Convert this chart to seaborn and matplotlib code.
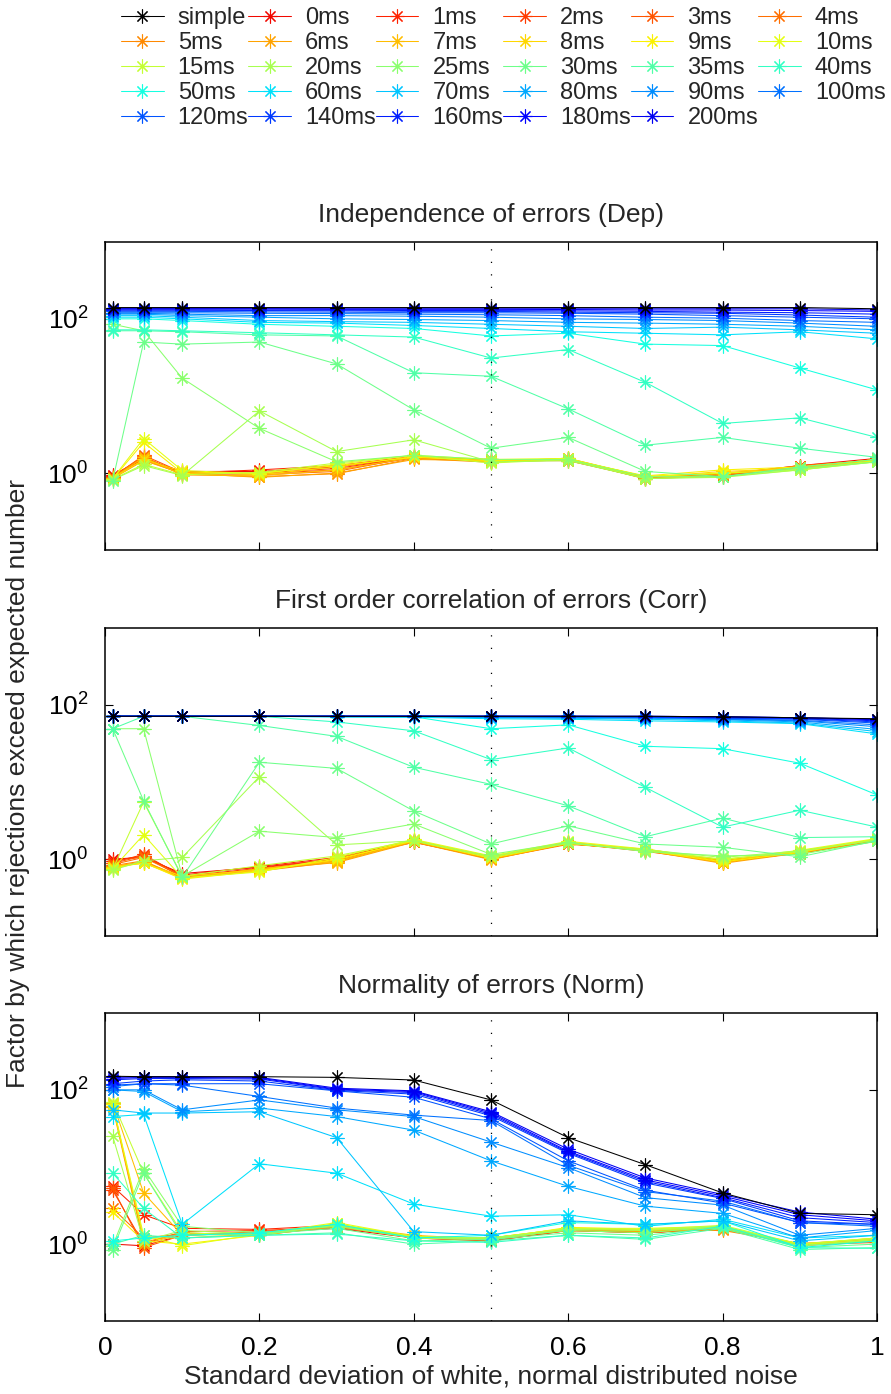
import matplotlib
matplotlib.use("Agg")
import matplotlib.pyplot as plt
from matplotlib.lines import Line2D
import numpy as np
import pandas as pd
import seaborn as sns

# noise levels (x axis)
sigma = [0.01, 0.05, 0.1, 0.2, 0.3, 0.4, 0.5, 0.6, 0.7, 0.8, 0.9, 1.0]
delays = [0, 1, 2, 3, 4, 5, 6, 7, 8, 9, 10, 15, 20, 25, 30, 35, 40,
          50, 60, 70, 80, 90, 100, 120, 140, 160, 180, 200]
ms_labels = [f"{d}ms" for d in delays]

titles = ["Independence of errors (Dep)",
          "First order correlation of errors (Corr)",
          "Normality of errors (Norm)"]

# Dep: one row per delay, in the order of `delays`
dep_simple = [140, 140, 140, 140, 140, 140, 140, 140, 140, 140, 140, 135]
dep_ms = [
    [0.95, 1.5, 1.05, 1.05, 1.2, 1.6, 1.4, 1.5, 0.87, 0.95, 1.25, 1.55],
    [0.92, 1.6, 1.0, 1.1, 1.25, 1.65, 1.45, 1.45, 0.86, 0.9, 1.2, 1.5],
    [0.9, 1.55, 0.98, 1.0, 1.15, 1.6, 1.5, 1.5, 0.85, 0.92, 1.22, 1.5],
    [0.88, 1.7, 1.02, 0.98, 1.1, 1.58, 1.42, 1.55, 0.88, 0.94, 1.18, 1.52],
    [0.9, 1.65, 0.95, 0.95, 1.05, 1.62, 1.4, 1.48, 0.87, 0.96, 1.25, 1.48],
    [0.86, 1.5, 0.97, 0.9, 0.98, 1.55, 1.38, 1.52, 0.9, 0.95, 1.2, 1.5],
    [0.85, 1.45, 1.0, 0.88, 1.0, 1.5, 1.45, 1.5, 0.84, 0.98, 1.15, 1.45],
    [0.87, 1.6, 0.95, 0.92, 1.1, 1.6, 1.5, 1.45, 0.9, 1.0, 1.2, 1.5],
    [0.85, 1.5, 1.05, 0.95, 1.2, 1.65, 1.4, 1.5, 0.88, 1.05, 1.15, 1.45],
    [0.84, 2.5, 1.0, 1.0, 1.25, 1.6, 1.45, 1.5, 0.92, 1.1, 1.2, 1.5],
    [0.85, 2.8, 1.08, 0.98, 1.3, 1.7, 1.5, 1.55, 0.9, 1.0, 1.1, 1.45],
    [0.83, 1.3, 0.95, 1.02, 1.35, 1.7, 1.35, 1.5, 0.85, 0.9, 1.1, 1.4],
    [0.82, 1.25, 0.93, 6.4, 1.9, 2.7, 1.4, 1.45, 0.85, 0.88, 1.1, 1.4],
    [85, 70, 17, 3.8, 1.4, 1.7, 1.5, 1.5, 0.9, 0.9, 1.15, 1.4],
    [0.8, 50, 47, 50, 26, 6.6, 2.1, 2.9, 1.05, 0.9, 1.2, 1.5],
    [70, 70, 68, 62, 60, 20, 18, 6.8, 2.3, 2.9, 2.1, 1.6],
    [72, 72, 70, 66, 62, 58, 31, 40, 15, 4.4, 5.2, 2.9],
    [100, 100, 95, 85, 80, 75, 60, 65, 47, 45, 23, 12],
    [105, 105, 100, 90, 88, 82, 75, 68, 65, 62, 68, 55],
    [110, 110, 105, 95, 92, 90, 85, 80, 75, 78, 72, 65],
    [115, 115, 110, 105, 100, 98, 95, 90, 88, 85, 80, 72],
    [118, 118, 115, 110, 110, 108, 105, 100, 98, 95, 88, 80],
    [120, 120, 120, 118, 117, 115, 113, 110, 105, 102, 95, 90],
    [125, 125, 125, 123, 122, 120, 120, 118, 115, 110, 105, 100],
    [130, 130, 130, 128, 127, 125, 125, 122, 120, 118, 112, 105],
    [130, 130, 130, 130, 130, 128, 128, 127, 125, 122, 120, 115],
    [135, 135, 135, 135, 133, 133, 133, 132, 130, 130, 128, 125],
    [135, 135, 135, 135, 135, 135, 135, 135, 135, 135, 135, 130],
]

# Corr
corr_simple = [71, 71, 71, 71, 71, 71, 71, 71, 71, 70, 68, 66]
corr_ms = [
    [1.0, 1.05, 0.65, 0.78, 1.0, 1.65, 1.02, 1.6, 1.3, 0.93, 1.2, 1.75],
    [0.95, 1.1, 0.62, 0.8, 1.05, 1.7, 1.05, 1.62, 1.28, 0.95, 1.22, 1.8],
    [0.9, 1.15, 0.6, 0.76, 1.02, 1.68, 1.0, 1.58, 1.32, 0.9, 1.25, 1.72],
    [0.88, 1.1, 0.58, 0.74, 0.98, 1.72, 1.03, 1.6, 1.26, 0.92, 1.2, 1.75],
    [0.85, 1.05, 0.6, 0.72, 0.95, 1.75, 1.06, 1.65, 1.3, 0.97, 1.18, 1.78],
    [0.82, 0.95, 0.57, 0.7, 0.92, 1.7, 1.0, 1.55, 1.35, 0.95, 1.23, 1.7],
    [0.8, 0.92, 0.59, 0.73, 0.9, 1.66, 0.98, 1.6, 1.28, 0.88, 1.2, 1.76],
    [0.78, 0.9, 0.56, 0.75, 0.93, 1.7, 1.04, 1.62, 1.3, 0.9, 1.25, 1.8],
    [0.8, 0.88, 0.6, 0.72, 0.97, 1.75, 1.08, 1.65, 1.33, 0.94, 1.28, 1.78],
    [0.76, 0.9, 0.55, 0.7, 1.0, 1.72, 1.02, 1.6, 1.3, 0.92, 1.22, 1.82],
    [0.75, 2.07, 0.57, 0.68, 1.05, 1.8, 1.1, 1.7, 1.35, 0.98, 1.3, 1.85],
    [0.74, 5.5, 0.6, 0.82, 1.1, 1.75, 1.05, 1.62, 1.28, 1.0, 1.25, 1.8],
    [0.72, 0.95, 1.05, 11.7, 1.53, 1.72, 1.08, 1.6, 1.32, 1.05, 1.28, 1.76],
    [49, 49, 0.6, 2.3, 1.9, 2.85, 1.15, 1.65, 1.25, 1.1, 1.15, 1.7],
    [49, 5.7, 0.58, 18, 15, 4.2, 1.57, 2.7, 1.57, 1.42, 1.07, 1.73],
    [49, 71, 71, 54, 39, 15.5, 9.3, 4.9, 1.95, 3.4, 1.9, 1.95],
    [71, 71, 71, 71, 60, 46, 19.5, 27.6, 8.5, 2.6, 4.3, 2.6],
    [71, 71, 71, 71, 70, 70, 49, 55, 29, 27, 17.5, 6.8],
    [71, 71, 71, 71, 70, 69, 66, 65, 62, 60, 57, 42],
    [71, 71, 71, 71, 70, 70, 68, 67, 65, 62, 58, 45],
    [71, 71, 71, 71, 71, 71, 69, 68, 67, 64, 60, 48],
    [71, 71, 71, 71, 71, 71, 70, 69, 68, 65, 62, 52],
    [71, 71, 71, 71, 71, 71, 70, 70, 69, 66, 63, 55],
    [71, 71, 71, 71, 71, 71, 71, 70, 70, 67, 65, 58],
    [71, 71, 71, 71, 71, 71, 71, 71, 70, 68, 66, 60],
    [71, 71, 71, 71, 71, 71, 71, 71, 70, 69, 67, 62],
    [71, 71, 71, 71, 71, 71, 71, 71, 71, 70, 68, 64],
    [71, 71, 71, 71, 71, 71, 71, 71, 71, 70, 68, 65],
]

# Norm
norm_simple = [150, 148, 148, 148, 145, 134, 74, 24, 10.7, 4.6, 2.5, 2.4]
norm_ms = [
    [1.0, 0.95, 1.3, 1.4, 1.6, 1.2, 1.1, 1.5, 1.4, 1.6, 0.95, 1.1],
    [5.6, 2.4, 1.6, 1.55, 1.75, 1.2, 1.2, 1.55, 1.4, 1.6, 1.0, 1.1],
    [5.0, 1.0, 1.45, 1.5, 1.65, 1.25, 1.15, 1.6, 1.45, 1.55, 1.0, 1.1],
    [5.3, 0.9, 1.3, 1.45, 1.7, 1.2, 1.1, 1.5, 1.4, 1.6, 0.98, 1.05],
    [2.9, 1.2, 1.35, 1.4, 1.65, 1.25, 1.2, 1.55, 1.45, 1.55, 1.0, 1.1],
    [65, 1.05, 1.4, 1.3, 1.7, 1.25, 1.15, 1.6, 1.5, 1.5, 1.02, 1.15],
    [60, 1.0, 1.35, 1.3, 1.7, 1.2, 1.2, 1.5, 1.45, 1.55, 1.0, 1.1],
    [68, 4.6, 1.3, 1.4, 1.75, 1.3, 1.15, 1.55, 1.5, 1.65, 0.98, 1.2],
    [62, 1.2, 1.2, 1.35, 1.8, 1.25, 1.2, 1.6, 1.5, 1.6, 1.0, 1.1],
    [2.6, 1.1, 1.0, 1.3, 1.85, 1.2, 1.15, 1.65, 1.55, 1.65, 0.95, 1.15],
    [65, 1.3, 0.95, 1.35, 1.9, 1.25, 1.2, 1.6, 1.6, 1.7, 1.0, 1.2],
    [70, 8.3, 1.4, 1.3, 1.8, 1.25, 1.2, 1.6, 1.55, 1.75, 1.0, 1.2],
    [25, 1.1, 1.5, 1.35, 1.75, 1.2, 1.15, 1.55, 1.5, 1.7, 0.95, 1.15],
    [0.95, 9.5, 1.7, 1.4, 1.7, 1.2, 1.2, 1.5, 1.4, 1.7, 0.95, 1.1],
    [0.85, 8.3, 1.3, 1.35, 1.6, 1.1, 1.15, 1.4, 1.3, 1.65, 0.9, 1.0],
    [1.0, 1.3, 1.2, 1.3, 1.4, 1.0, 1.1, 1.3, 1.15, 1.6, 0.85, 0.9],
    [8.3, 2.9, 1.2, 1.3, 1.35, 1.1, 1.05, 1.3, 1.2, 1.7, 0.9, 0.88],
    [1.1, 1.2, 1.3, 1.4, 1.8, 1.2, 1.3, 1.9, 1.8, 2.0, 0.9, 1.1],
    [45, 48, 1.8, 11, 8.3, 3.3, 2.3, 2.4, 1.7, 2.1, 1.2, 1.3],
    [55, 50, 50, 52, 24, 1.45, 1.3, 2.0, 1.8, 2.0, 1.1, 1.3],
    [100, 95, 52, 58, 45, 30, 12, 5.6, 3.1, 2.5, 1.2, 1.5],
    [100, 100, 55, 74, 55, 45, 21, 9.8, 4.0, 3.2, 1.3, 1.6],
    [110, 120, 115, 82, 58, 47, 40, 10.5, 4.8, 3.6, 1.9, 1.7],
    [115, 120, 120, 120, 97, 80, 42, 12, 5.0, 3.4, 1.9, 1.8],
    [120, 130, 135, 130, 98, 88, 46, 15, 6.2, 3.9, 2.0, 1.8],
    [135, 140, 140, 138, 100, 92, 48, 15.5, 6.5, 4.0, 2.2, 1.9],
    [140, 145, 145, 142, 102, 95, 50, 16, 6.8, 4.2, 2.4, 2.0],
    [145, 148, 148, 145, 105, 97, 52, 17, 7.2, 4.4, 2.6, 2.1],
]

sns.set_theme(style="ticks")
plt.rcParams["font.family"] = ["Liberation Sans", "DejaVu Sans"]
plt.rcParams["mathtext.fontset"] = "custom"
plt.rcParams["mathtext.rm"] = "Liberation Sans"
plt.rcParams["mathtext.it"] = "Liberation Sans"

# jet run backwards: red -> yellow over 0..10ms, yellow -> cyan up to 50ms,
# cyan -> blue up to 200ms
jet = plt.get_cmap("jet")
jet_pos = np.interp(np.arange(len(delays)), [0, 10, 17, 27], [0.9, 0.625, 0.375, 0.1])
colors = {lab: jet(v) for lab, v in zip(ms_labels, jet_pos)}

STAR = (8, 2, 0)
LINE_KW = dict(marker=STAR, markersize=10, lw=0.75)


def draw_panel(ax, simple, rows, title, show_xlabels):
    df = pd.DataFrame({
        "sigma": np.tile(sigma, len(delays)),
        "factor": np.concatenate([np.asarray(r, float) for r in rows]),
        "delay": np.repeat(ms_labels, len(sigma)),
    })
    sns.lineplot(data=df, x="sigma", y="factor", hue="delay", hue_order=ms_labels,
                 palette=colors, estimator=None, legend=False, ax=ax,
                 mew=0.8, **LINE_KW)
    sns.lineplot(x=sigma, y=simple, color="black", estimator=None, ax=ax,
                 mew=0.8, **LINE_KW)
    for line in ax.lines:
        line.set_markeredgecolor(line.get_color())

    ax.axvline(0.5, color="black", lw=0.9, ls=(0, (1, 9)))
    ax.set_yscale("log")
    ax.set_ylim(0.1, 1000)
    ax.set_xlim(0, 1)
    ax.set_yticks([1, 100])
    ax.yaxis.set_minor_locator(matplotlib.ticker.NullLocator())
    ax.set_xticks([0, 0.2, 0.4, 0.6, 0.8, 1.0])
    ax.set_xticklabels(["0", "0.2", "0.4", "0.6", "0.8", "1"] if show_xlabels else [])
    ax.tick_params(direction="in", top=True, right=True, length=6, width=0.8,
                   labelsize=19, color="black", labelcolor="black")
    ax.tick_params(axis="y", pad=12)
    ax.tick_params(axis="x", pad=11)
    for sp in ax.spines.values():
        sp.set_color("black")
        sp.set_linewidth(1.1)
    ax.set_xlabel("")
    ax.set_ylabel("")
    ax.set_title(title, fontsize=19, pad=14)


fig = plt.figure(figsize=(8.91, 13.94), dpi=100)
W, H = 891, 1394
panel_tops = [241.7, 627.7, 1012.7]
axes = []
for top in panel_tops:
    axes.append(fig.add_axes([105 / W, 1 - (top + 308.5) / H, 772 / W, 308.5 / H]))

draw_panel(axes[0], dep_simple, dep_ms, titles[0], False)
draw_panel(axes[1], corr_simple, corr_ms, titles[1], False)
draw_panel(axes[2], norm_simple, norm_ms, titles[2], True)

axes[2].set_xlabel("Standard deviation of white, normal distributed noise", fontsize=19, labelpad=3)
fig.text(18 / W, 1 - 783 / H, "Factor by which rejections exceed expected number",
         rotation=90, ha="center", va="center", fontsize=19)

# legend, filled row by row like the original
all_labels = ["simple"] + ms_labels
all_colors = ["black"] + [colors[l] for l in ms_labels]
handles = [Line2D([], [], color=c, marker=STAR, markersize=10, mew=0.8, lw=0.75, mec=c)
           for c in all_colors]
ncol = 6
order = []
for c in range(ncol):
    for r in range(5):
        i = r * ncol + c
        if i < len(all_labels):
            order.append(i)
fig.legend([handles[i] for i in order], [all_labels[i] for i in order],
           ncol=ncol, loc="upper left", bbox_to_anchor=(121 / W, 1 - 7 / H),
           frameon=False, fontsize=17, handlelength=1.8, handletextpad=0.6,
           columnspacing=0.0, labelspacing=0.13, borderpad=0, borderaxespad=0)

fig.savefig("out.png", dpi=100)
